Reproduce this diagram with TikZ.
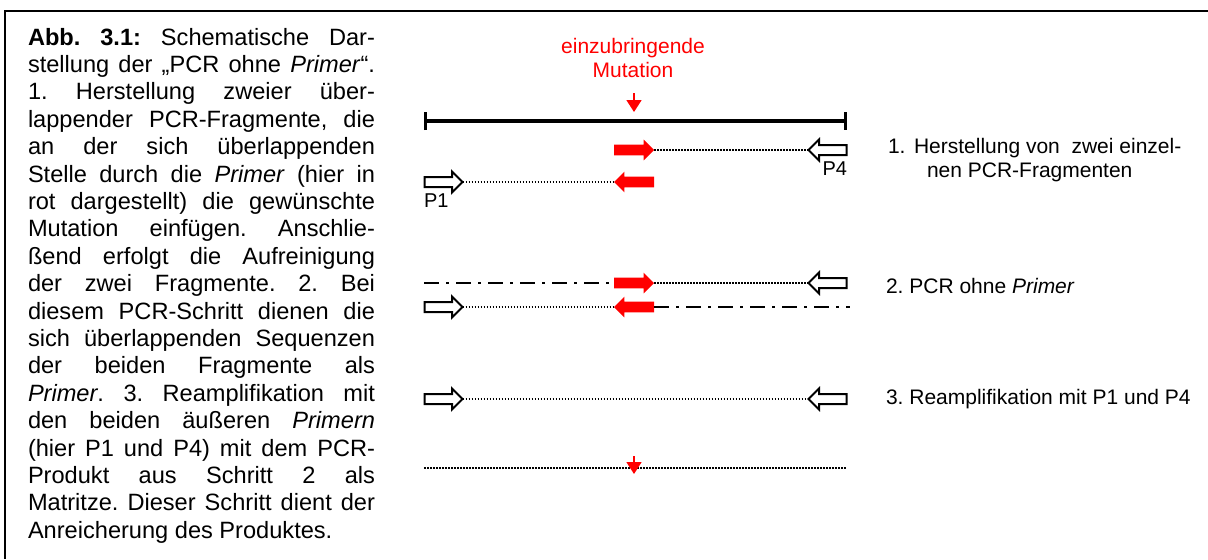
\documentclass[tikz,border=0pt]{standalone}
\usepackage{fontspec}
\setmainfont{Liberation Sans}
\usetikzlibrary{arrows.meta,positioning,calc,shapes.arrows}
\tolerance=10000
\hyphenpenalty=10000
\exhyphenpenalty=10000
\frenchspacing
\tikzset{
  every node/.append style={inner sep=0pt, outer sep=0pt},
}
\tikzset{
  dotline/.style={line width=0.75pt, dash pattern=on 0.75pt off 0.75pt},
  dashdotline/.style={line width=1pt, dash pattern=on 7.5pt off 3.5pt on 1.5pt off 3.5pt},
  caption/.style={text width=173.5pt, align=justify, font=\fontsize{11.8}{13.7}\selectfont}
}

\begin{document}
\begin{tikzpicture}[
  x=0.5pt, y=-0.5pt,
  redarr/.style={single arrow, fill=mutred, draw=none, minimum height=20pt, inner xsep=0pt, inner ysep=2.5pt, single arrow head extend=2.5pt},
  openarr/.style={single arrow, fill=white, draw=black, line width=1pt, minimum height=19pt, inner xsep=0pt, inner ysep=2pt, single arrow head extend=2.75pt},
  mutarrow/.style={-{Triangle[width=7.5pt,length=6pt]}, mutred, line width=0.8pt},
  template/.style={line width=1.65pt, {Bar[width=9pt]}-{Bar[width=9pt]}},
  mutlabel/.style={align=center, text=mutred, font=\fontsize{10.5}{12}\selectfont},
  steplabel/.style={align=left, font=\fontsize{10.5}{12}\selectfont},
  plabel/.style={font=\fontsize{10}{12}\selectfont}
]
\definecolor{mutred}{RGB}{255,0,0}

\useasboundingbox (0,0) rectangle (1208,559);
\draw[line width=1pt] (1208,11) -- (5,11) -- (5,559);

\node[caption, anchor=north west] (capt) at (28,28) {\textbf{Abb. 3.1:} Schematische Dar-\linebreak
stellung der „PCR ohne \textit{Primer}“.\linebreak
1. Herstellung zweier über-\linebreak
lappender PCR-Fragmente, die\linebreak
an der sich überlappenden\linebreak
Stelle durch die \textit{Primer} (hier in\linebreak
rot dargestellt) die gewünschte\linebreak
Mutation einfügen. Anschlie-\linebreak
ßend erfolgt die Aufreinigung\linebreak
der zwei Fragmente. 2. Bei\linebreak
diesem PCR-Schritt dienen die\linebreak
sich überlappenden Sequenzen\linebreak
der beiden Fragmente als\linebreak
\textit{Primer}. 3. Reamplifikation mit\linebreak
den beiden äußeren \textit{Primern}\linebreak
(hier P1 und P4) mit dem PCR-\linebreak
Produkt aus Schritt 2 als\linebreak
Matritze. Dieser Schritt dient der\linebreak
Anreicherung des Produktes.};

% template with mutation site
\node[mutlabel, anchor=north] (mutlbl) at (633,38) {einzubringende\\Mutation};
\coordinate (mutTop) at (634,93);
\coordinate (mutTip) at (634,112);
\draw[mutarrow] (mutTop) -- (mutTip);
\coordinate (tplL) at (424,121);
\coordinate (tplR) at (847,121);
\draw[template] (tplL) -- (tplR);

% step 1
\node[redarr, anchor=tail] (redA) at (614,150) {};
\node[openarr, shape border rotate=180, anchor=tail] (pfour) at (846.5,150) {};
\draw[dotline] (redA.tip) -- (pfour.tip);
\node[plabel, anchor=base east] (pfourlbl) at (847,175) {P4};
\node[openarr, anchor=tail] (pone) at (424.5,182) {};
\node[redarr, shape border rotate=180, anchor=tail] (redB) at (654,182) {};
\draw[dotline] (pone.tip) -- (redB.tip);
\node[plabel, anchor=base west] (ponelbl) at (424,207) {P1};
\node[steplabel, anchor=north west] (stepone) at (888,138) {1.\hspace{4.25pt}Herstellung von\ \ zwei einzel-\\\hspace*{19.5pt}nen PCR-Fragmenten};

% step 2
\coordinate (dashA) at (424,283);
\node[redarr, anchor=tail] (redC) at (614,283) {};
\node[openarr, shape border rotate=180, anchor=tail] (pfourB) at (846.5,283) {};
\draw[dashdotline] (dashA) -- (redC.tail);
\draw[dotline] (redC.tip) -- (pfourB.tip);
\node[openarr, anchor=tail] (poneB) at (424.5,307) {};
\node[redarr, shape border rotate=180, anchor=tail] (redD) at (654,307) {};
\coordinate (dashB) at (850,307);
\draw[dotline] (poneB.tip) -- (redD.tip);
\draw[dashdotline] (redD.tail) -- (dashB);
\node[steplabel, anchor=base west] (steptwo) at (886,293) {2. PCR ohne \textit{Primer}};

% step 3
\node[openarr, anchor=tail] (poneC) at (424.5,399) {};
\node[openarr, shape border rotate=180, anchor=tail] (pfourC) at (846.5,399) {};
\draw[dotline] (poneC.tip) -- (pfourC.tip);
\node[steplabel, anchor=base west] (stepthree) at (886,404) {3. Reamplifikation mit P1 und P4};

% product
\coordinate (prodL) at (424,468);
\coordinate (prodR) at (847,468);
\draw[dotline] (prodL) -- (prodR);
\coordinate (mutTopB) at (634,456);
\coordinate (mutTipB) at (634,474);
\draw[mutarrow] (mutTopB) -- (mutTipB);
\end{tikzpicture}
\end{document}
